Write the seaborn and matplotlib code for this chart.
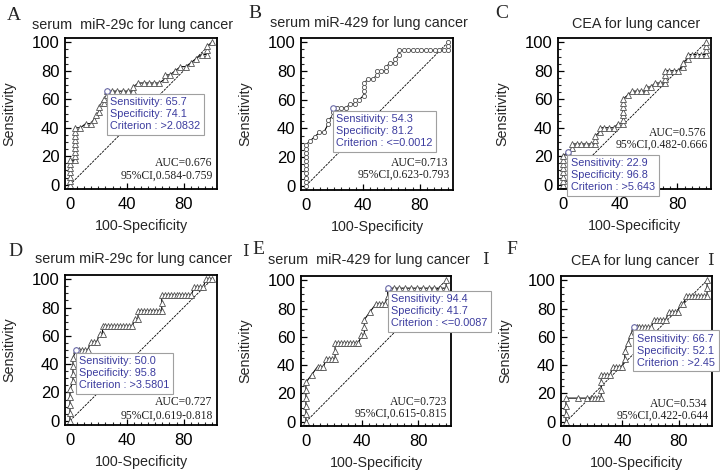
import matplotlib
matplotlib.use("Agg")
import matplotlib.pyplot as plt
import seaborn as sns
from matplotlib.ticker import MultipleLocator, FixedLocator

sns.set_style("ticks")
plt.rcParams['font.family'] = ['Liberation Sans', 'DejaVu Sans']

# ---------------- data (100-Specificity, Sensitivity) ----------------
a_x = [0, 0, 0, 0, 0, 0, 0, 3.7, 3.7, 3.7, 3.7, 3.7, 3.7, 3.7, 3.7, 3.7, 7.4, 11.1, 14.8, 16.7, 18.5,
       20.4, 20.4, 22.2, 24.1, 24.1, 25.9, 25.9, 29.6, 33.3, 37.0, 40.7, 44.4, 44.4, 48.1, 51.9, 55.6,
       59.3, 63.0, 66.7, 66.7, 70.4, 74.1, 77.8, 81.5, 85.2, 88.9, 92.6, 96.3, 96.3, 96.3, 100]
a_y = [0, 2.9, 5.7, 8.6, 11.4, 14.3, 17.1, 17.1, 20.0, 22.9, 25.7, 28.6, 31.4, 34.3, 37.1, 40.0, 40.0,
       42.9, 42.9, 45.7, 48.6, 51.4, 54.3, 57.1, 57.1, 60.0, 62.9, 65.7, 65.7, 65.7, 65.7, 65.7, 65.7,
       68.6, 71.4, 71.4, 71.4, 71.4, 71.4, 74.3, 77.1, 77.1, 80.0, 82.9, 82.9, 85.7, 88.6, 91.4, 91.4,
       94.3, 97.1, 100]

b_x = [0, 0, 0, 0, 0, 0, 0, 0, 0, 0, 0, 3.1, 6.3, 9.4, 12.5, 15.6, 15.6, 18.8, 18.8, 18.8, 21.9, 25.0,
       28.1, 31.3, 34.4, 34.4, 37.5, 40.6, 40.6, 40.6, 40.6, 43.8, 46.9, 50.0, 50.0, 53.1, 56.3, 56.3,
       59.4, 62.5, 62.5, 65.6, 65.6, 68.8, 71.9, 75.0, 78.1, 81.3, 84.4, 87.5, 90.6, 93.8, 96.9, 100,
       100, 100]
b_y = [0, 2.9, 5.7, 8.6, 11.4, 14.3, 17.1, 20.0, 22.9, 25.7, 28.6, 31.4, 34.3, 37.1, 37.1, 42.9, 45.7,
       48.6, 51.4, 54.3, 54.3, 54.3, 54.3, 57.1, 57.1, 60.0, 60.0, 62.9, 65.7, 68.6, 71.4, 74.3, 74.3,
       77.1, 80.0, 80.0, 80.0, 82.9, 85.7, 85.7, 88.6, 91.4, 94.3, 94.3, 94.3, 94.3, 94.3, 94.3, 94.3,
       94.3, 94.3, 94.3, 94.3, 94.3, 97.1, 100]

c_x = [0, 0, 0, 0, 0, 0, 0, 0, 3.2, 6.5, 6.5, 9.7, 12.9, 16.1, 19.4, 22.6, 22.6, 22.6, 25.8, 25.8,
       29.0, 32.3, 35.5, 38.7, 41.9, 41.9, 41.9, 41.9, 41.9, 41.9, 41.9, 45.2, 48.4, 51.6, 54.8, 58.1,
       58.1, 61.3, 64.5, 67.7, 71.0, 71.0, 71.0, 71.0, 74.2, 77.4, 80.6, 83.9, 83.9, 87.1, 87.1, 90.3,
       93.5, 96.8, 100, 100, 100, 100]
c_y = [0, 2.9, 5.7, 8.6, 11.4, 14.3, 17.1, 20.0, 22.9, 25.7, 28.6, 28.6, 28.6, 28.6, 28.6, 28.6, 31.4,
       34.3, 37.1, 40.0, 40.0, 40.0, 40.0, 42.9, 42.9, 45.7, 48.6, 51.4, 54.3, 57.1, 60.0, 62.9, 65.7,
       65.7, 65.7, 65.7, 68.6, 68.6, 71.4, 71.4, 71.4, 74.3, 77.1, 80.0, 80.0, 80.0, 80.0, 82.9, 85.7,
       88.6, 91.4, 91.4, 91.4, 91.4, 91.4, 94.3, 97.1, 100]

d_x = [0, 0, 0, 0, 0, 2.1, 2.1, 2.1, 2.1, 4.2, 6.3, 8.3, 10.4, 12.5, 14.6, 16.7, 18.8, 20.8, 22.9,
       22.9, 25.0, 27.1, 29.2, 31.3, 33.3, 35.4, 37.5, 39.6, 41.7, 43.8, 45.8, 47.9, 47.9, 50.0, 52.1,
       54.2, 56.3, 58.3, 60.4, 62.5, 64.6, 64.6, 64.6, 66.7, 68.8, 70.8, 72.9, 75.0, 77.1, 79.2, 81.3,
       83.3, 85.4, 87.5, 89.6, 91.7, 93.8, 95.8, 97.9, 100]
d_y = [0, 5.6, 11.1, 16.7, 22.2, 27.8, 33.3, 38.9, 44.4, 50.0, 50.0, 50.0, 50.0, 50.0, 55.6, 55.6,
       55.6, 61.1, 61.1, 66.7, 66.7, 66.7, 66.7, 66.7, 66.7, 66.7, 66.7, 66.7, 66.7, 66.7, 72.2, 72.2,
       77.8, 77.8, 77.8, 77.8, 77.8, 77.8, 77.8, 77.8, 77.8, 83.3, 88.9, 88.9, 88.9, 88.9, 88.9, 88.9,
       88.9, 88.9, 88.9, 88.9, 88.9, 94.4, 94.4, 94.4, 94.4, 100, 100, 100]

e_x = [0, 0, 0, 0, 0, 0, 4.2, 8.3, 10.4, 12.5, 14.6, 16.7, 18.8, 20.8, 20.8, 20.8, 22.9, 25.0, 27.1,
       29.2, 31.3, 33.3, 35.4, 37.5, 39.6, 41.7, 41.7, 41.7, 45.8, 50.0, 52.1, 54.2, 56.3, 58.3, 58.3,
       62.5, 66.7, 70.8, 75.0, 79.2, 83.3, 87.5, 91.7, 95.8, 100, 100]
e_y = [0, 5.6, 11.1, 16.7, 22.2, 27.8, 33.3, 38.9, 38.9, 38.9, 44.4, 44.4, 44.4, 44.4, 50.0, 55.6,
       55.6, 55.6, 55.6, 55.6, 55.6, 55.6, 55.6, 55.6, 61.1, 61.1, 66.7, 72.2, 77.8, 83.3, 83.3, 83.3,
       83.3, 88.9, 94.4, 94.4, 94.4, 94.4, 94.4, 94.4, 94.4, 94.4, 94.4, 94.4, 94.4, 100]

f_x = [0, 0, 0, 0, 8.3, 14.6, 18.8, 20.8, 22.9, 25.0, 25.0, 25.0, 25.0, 27.1, 29.2, 31.3, 33.3, 35.4,
       37.5, 39.6, 41.7, 41.7, 43.8, 45.8, 47.9, 50.0, 52.1, 54.2, 56.3, 58.3, 60.4, 62.5, 64.6, 66.7,
       68.8, 70.8, 72.9, 75.0, 77.1, 79.2, 81.3, 83.3, 85.4, 87.5, 89.6, 91.7, 93.8, 95.8, 97.9, 100,
       100, 100]
f_y = [0, 5.6, 11.1, 16.7, 16.7, 16.7, 16.7, 16.7, 16.7, 16.7, 22.2, 27.8, 33.3, 33.3, 33.3, 33.3,
       38.9, 38.9, 38.9, 38.9, 44.4, 50.0, 55.6, 61.1, 66.7, 66.7, 66.7, 66.7, 66.7, 66.7, 66.7, 72.2,
       72.2, 72.2, 72.2, 72.2, 77.8, 77.8, 77.8, 77.8, 83.3, 83.3, 88.9, 88.9, 88.9, 88.9, 88.9, 88.9,
       88.9, 88.9, 94.4, 100]

diag = [0, 100]

panel_letters = ["A", "B", "C", "D", "E", "F"]
titles = ["serum  miR-29c for lung cancer", "serum miR-429 for lung cancer", "CEA for lung cancer",
          "serum miR-29c for lung cancer", "serum  miR-429 for lung cancer", "CEA for lung cancer"]
sens_vals = ["65.7", "54.3", "22.9", "50.0", "94.4", "66.7"]
spec_vals = ["74.1", "81.2", "96.8", "95.8", "41.7", "52.1"]
criteria = [">2.0832", "<=0.0012", ">5.643", ">3.5801", "<=0.0087", ">2.45"]
auc_vals = ["0.676", "0.713", "0.576", "0.727", "0.723", "0.534"]
ci_vals = ["0.584-0.759", "0.623-0.793", "0.482-0.666", "0.619-0.818", "0.615-0.815", "0.422-0.644"]
opt_x = [25.9, 18.8, 3.2, 4.2, 58.3, 47.9]
opt_y = [65.7, 54.3, 22.9, 50.0, 94.4, 66.7]

curves = [(a_x, a_y), (b_x, b_y), (c_x, c_y), (d_x, d_y), (e_x, e_y), (f_x, f_y)]

# ---------------- layout (pixels) ----------------
W, H = 720, 474
boxes = [(65, 38, 152, 151), (301, 38, 152, 152), (558, 38, 153, 151),
         (65, 275, 152, 150), (301, 276, 150, 150), (561, 276, 151, 150)]
title_pos = [(133, 25), (369, 23), (636, 24), (134, 259), (369, 260), (635, 261)]
letter_pos = [(14, 15), (255, 13), (502, 13), (15, 252), (258, 249), (512, 249)]
roman_pos = [(245, 252), (485, 260), (710, 261)]
auc_y = [15.3, 15.6, 36.6, 13.0, 14.3, 12.7]
ci_y = [6.3, 7.4, 28.2, 3.6, 5.6, 4.1]

fig = plt.figure(figsize=(W / 100, H / 100), dpi=100)
fig.patch.set_facecolor("white")

blue = "#3b3b9e"
serif = ["Liberation Serif", "DejaVu Serif"]

for i, (cx, cy) in enumerate(curves):
    l, t, w, h = boxes[i]
    ax = fig.add_axes([l / W, 1 - (t + h) / H, w / W, h / H])
    # diagonal
    sns.lineplot(x=diag, y=diag, ax=ax, color="black", lw=0.6, linestyle=(0, (3, 1.2)),
                 sort=False, estimator=None)
    mk = "o" if i == 1 else "^"
    ms = 3.0 if i == 1 else 4.6
    sns.lineplot(x=cx, y=cy, ax=ax, sort=False, estimator=None, color="black", lw=0.8,
                 marker=mk, markersize=ms, markerfacecolor="white", markeredgecolor="#505050",
                 markeredgewidth=0.6)
    sns.lineplot(x=[opt_x[i]], y=[opt_y[i]], ax=ax, marker="o", markersize=4,
                 markerfacecolor="white", markeredgecolor="#6a6aa8", markeredgewidth=0.8,
                 linestyle="none", estimator=None)
    ax.set_xlim(-3.5, 103.5)
    ax.set_ylim(-3, 103)
    ax.xaxis.set_major_locator(FixedLocator([0, 40, 80]))
    ax.xaxis.set_minor_locator(MultipleLocator(5))
    ax.yaxis.set_major_locator(MultipleLocator(20))
    ax.yaxis.set_minor_locator(MultipleLocator(5))
    ax.tick_params(which="major", direction="in", length=4, width=0.9, labelsize=12,
                   colors="black")
    ax.tick_params(axis="x", which="major", pad=5.5)
    ax.tick_params(axis="y", which="major", pad=4.0)
    ax.tick_params(which="minor", direction="in", length=2.5, width=0.8)
    for s in ax.spines.values():
        s.set_linewidth(1.3)
        s.set_color("black")
    ax.set_xlabel("100-Specificity", fontsize=10.3)
    ax.set_ylabel("Sensitivity", fontsize=10.3)
    ax.xaxis.set_label_coords(0.5, -37 / h)
    ax.xaxis.label.set_va("center")
    ax.yaxis.set_label_coords(-56 / w, 0.5)
    ax.yaxis.label.set_va("center")

    info = f"Sensitivity: {sens_vals[i]}\nSpecificity: {spec_vals[i]}\nCriterion : {criteria[i]}"
    ax.annotate(info, xy=(opt_x[i], opt_y[i]), xytext=(2.5, -4.5), textcoords="offset points",
                ha="left", va="top", fontsize=7.8, color=blue, linespacing=1.25,
                bbox=dict(boxstyle="square,pad=0.33", fc="white", ec="#a0a0a0", lw=0.8),
                annotation_clip=False, zorder=5)
    ax.text(100.5, auc_y[i], f"AUC={auc_vals[i]}", ha="right", va="center", fontsize=8.4,
            family=serif, color="#202020")
    ax.text(101, ci_y[i], f"95%CI,{ci_vals[i]}", ha="right", va="center", fontsize=8.4,
            family=serif, color="#202020")
    ax.set_facecolor("white")

    fig.text(title_pos[i][0] / W, 1 - title_pos[i][1] / H, titles[i], ha="center", va="center",
             fontsize=10.4)
    fig.text(letter_pos[i][0] / W, 1 - letter_pos[i][1] / H, panel_letters[i], ha="center",
             va="center", fontsize=14, family=serif)

for (rx, ry) in roman_pos:
    fig.text(rx / W, 1 - ry / H, "Ⅰ", ha="center", va="center", fontsize=12,
             family=["Liberation Serif", "DejaVu Serif", "Noto Sans CJK SC"])

fig.savefig("out.png", dpi=100, facecolor="white")
